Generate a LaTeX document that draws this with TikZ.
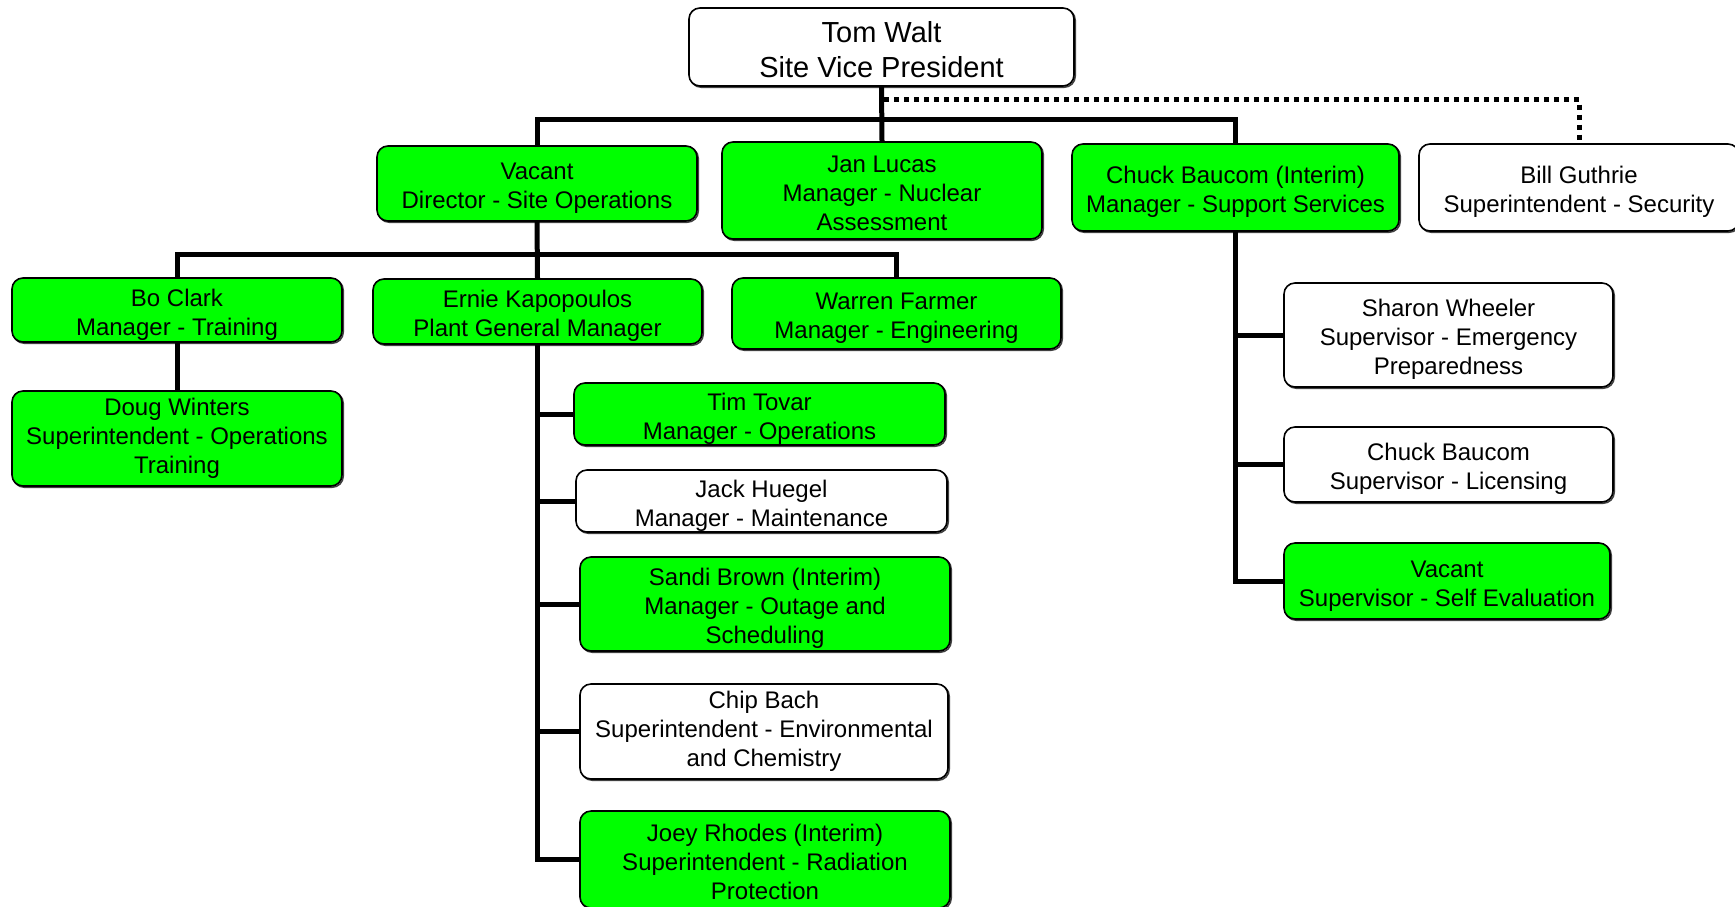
\documentclass[tikz,border=0pt]{standalone}
\usepackage{fontspec}
\setmainfont{Liberation Sans}
\definecolor{boxgreen}{HTML}{00FF00}
\newcommand\upstrut{\rule{0pt}{1.1em}}
\newcommand\dnstrut{\rule[-0.2em]{0pt}{0.2em}}
\begin{document}
\begin{tikzpicture}[x=1pt,y=-1pt,
  orgbox/.style={draw=black,line width=1.6pt,rounded corners=11pt,fill=white,
    align=center,inner sep=0pt,font=\fontsize{24}{28.8}\selectfont,
    preaction={draw=black!75,line width=1.6pt,transform canvas={shift={(1.2,1.2)}}}},
  greenbox/.style={orgbox,fill=boxgreen},
  conn/.style={line width=5pt},
  dotconn/.style={line width=5pt,dash pattern=on 5pt off 5pt}]
% page of the reference, pixel units
\useasboundingbox (0,0) rectangle (1735,906);
\node[orgbox,minimum width=385pt,minimum height=78pt,font=\fontsize{29}{35}\selectfont]
  (tom) at (881.5,47) {\upstrut Tom Walt\\Site Vice President\dnstrut};
\node[greenbox,minimum width=320pt,minimum height=75pt] (vacant) at (537,183.5)
  {\upstrut Vacant\\Director - Site Operations\dnstrut};
\node[greenbox,minimum width=320pt,minimum height=97pt] (jan) at (882,190.5)
  {\upstrut Jan Lucas\\Manager - Nuclear\\Assessment\dnstrut};
\node[greenbox,minimum width=327pt,minimum height=87pt] (chuck) at (1235.5,187.5)
  {\upstrut Chuck Baucom (Interim)\\Manager - Support Services\dnstrut};
\node[orgbox,minimum width=320pt,minimum height=87pt] (bill) at (1579,187.5)
  {\upstrut Bill Guthrie\\Superintendent - Security\dnstrut};
\node[greenbox,minimum width=330pt,minimum height=64pt] (bo) at (177,310)
  {\upstrut Bo Clark\\Manager - Training\dnstrut};
\node[greenbox,minimum width=329pt,minimum height=65pt] (ernie) at (537.5,311.5)
  {\upstrut Ernie Kapopoulos\\Plant General Manager\dnstrut};
\node[greenbox,minimum width=329pt,minimum height=71pt] (warren) at (896.5,313.5)
  {\upstrut Warren Farmer\\Manager - Engineering\dnstrut};
\node[greenbox,minimum width=330pt,minimum height=95pt] (doug) at (177,438.5)
  {Doug Winters\\Superintendent - Operations\\Training\dnstrut};
\node[greenbox,minimum width=371pt,minimum height=62pt] (tim) at (759.5,414)
  {\upstrut Tim Tovar\\Manager - Operations\dnstrut};
\node[orgbox,minimum width=371pt,minimum height=62pt] (jack) at (761.5,501)
  {\upstrut Jack Huegel\\Manager - Maintenance\dnstrut};
\node[greenbox,minimum width=370pt,minimum height=94pt] (sandi) at (765,604)
  {\upstrut Sandi Brown (Interim)\\Manager - Outage and\\Scheduling\dnstrut};
\node[orgbox,minimum width=368pt,minimum height=95pt] (chip) at (764,731.5)
  {Chip Bach\\Superintendent - Environmental\\and Chemistry\dnstrut};
\node[greenbox,minimum width=370pt,minimum height=97pt] (joey) at (765,859.5)
  {\upstrut Joey Rhodes (Interim)\\Superintendent - Radiation\\Protection\dnstrut};
\node[orgbox,minimum width=329pt,minimum height=104pt] (sharon) at (1448.5,335)
  {\upstrut Sharon Wheeler\\Supervisor - Emergency\\Preparedness\dnstrut};
\node[orgbox,minimum width=329pt,minimum height=75pt] (chuckb) at (1448.5,464.5)
  {\upstrut Chuck Baucom\\Supervisor - Licensing\dnstrut};
\node[greenbox,minimum width=326pt,minimum height=76pt] (selfeval) at (1447,581)
  {\upstrut Vacant\\Supervisor - Self Evaluation\dnstrut};
\coordinate (busA) at (881.5,119.5);
\coordinate (dotA) at (884,99.6);
\coordinate (busB) at (537,254.5);
\draw[conn] (tom.south) -- (jan.north);
\draw[conn] (vacant.north) |- (busA) -| (chuck.north);
\draw[dotconn] (dotA) -| (bill.north);
\draw[conn] (vacant.south) -- (ernie.north);
\draw[conn] (bo.north) |- (busB) -| (warren.north);
\draw[conn] (bo.south) -- (doug.north);
\draw[conn] (ernie.south) |- (joey.west);
\draw[conn] (tim.west) -- (tim.west -| ernie.south);
\draw[conn] (jack.west) -- (jack.west -| ernie.south);
\draw[conn] (sandi.west) -- (sandi.west -| ernie.south);
\draw[conn] (chip.west) -- (chip.west -| ernie.south);
\draw[conn] (chuck.south) |- (selfeval.west);
\draw[conn] (sharon.west) -- (sharon.west -| chuck.south);
\draw[conn] (chuckb.west) -- (chuckb.west -| chuck.south);
\end{tikzpicture}
\end{document}
